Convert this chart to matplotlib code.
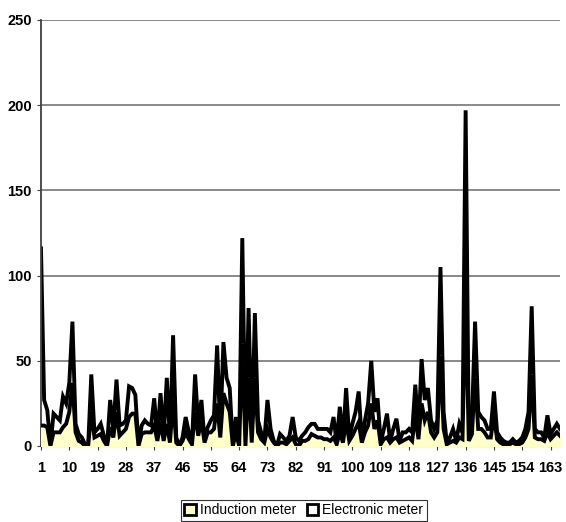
import matplotlib
matplotlib.use("Agg")
import matplotlib.pyplot as plt
from matplotlib.patches import Patch

plt.rcParams['font.family'] = ['Liberation Sans', 'DejaVu Sans']

# valores (ponto 1..166)
electronic = [116, 27, 21, 0, 19, 17, 15, 29, 25, 37, 73, 13, 7, 5, 1, 0, 42, 8, 10, 13,
              6, 0, 27, 10, 39, 12, 13, 15, 35, 34, 30, 0, 12, 15, 13, 12, 28, 5, 31, 5,
              40, 3, 65, 5, 0, 5, 17, 8, 2, 42, 12, 27, 3, 11, 15, 18, 59, 8, 61, 40,
              34, 0, 17, 0, 122, 0, 81, 3, 78, 15, 8, 3, 27, 10, 3, 0, 7, 5, 3, 6,
              17, 5, 3, 6, 8, 11, 13, 13, 10, 10, 10, 10, 8, 17, 2, 23, 3, 34, 5, 13,
              20, 32, 3, 15, 25, 50, 20, 28, 2, 10, 19, 3, 10, 16, 3, 8, 8, 10, 8, 36,
              8, 51, 27, 34, 15, 10, 15, 105, 20, 2, 5, 10, 3, 13, 8, 197, 5, 15, 73, 20,
              17, 15, 10, 10, 32, 8, 5, 3, 2, 2, 4, 2, 3, 5, 10, 20, 82, 10, 8, 8,
              5, 18, 7, 10, 13, 10]
induction = [12, 12, 11, 0, 8, 8, 8, 11, 13, 20, 37, 8, 3, 2, 0, 0, 20, 5, 6, 7,
             3, 0, 11, 5, 20, 6, 8, 10, 17, 19, 19, 0, 7, 8, 8, 8, 12, 3, 14, 3,
             13, 2, 27, 2, 0, 3, 8, 4, 1, 20, 6, 15, 2, 8, 8, 10, 25, 5, 31, 25,
             20, 0, 8, 0, 60, 0, 40, 2, 40, 8, 4, 2, 10, 5, 2, 0, 2, 2, 1, 3,
             5, 1, 0, 3, 3, 4, 7, 6, 5, 5, 4, 4, 3, 5, 1, 8, 2, 15, 3, 6,
             10, 14, 2, 8, 12, 25, 10, 15, 1, 4, 5, 2, 4, 5, 2, 3, 4, 5, 3, 18,
             4, 25, 15, 20, 8, 5, 8, 53, 10, 1, 2, 3, 2, 5, 4, 88, 3, 7, 40, 10,
             10, 8, 5, 5, 18, 4, 2, 1, 0, 1, 2, 1, 1, 2, 5, 10, 42, 5, 4, 4,
             3, 8, 4, 6, 8, 6]
x = list(range(1, len(electronic) + 1))
xticks = list(range(1, 167, 9))
yticks = [0, 50, 100, 150, 200, 250]

fig = plt.figure(figsize=(5.66, 5.22), dpi=100)
ax = fig.add_axes([0.0724, 0.1456, 0.917, 0.8161])

# grade horizontal
for y in yticks[1:]:
    ax.axhline(y, color='#808080', lw=1.3, zorder=0)

# area de tras (eletronico) e da frente (inducao)
ax.fill_between(x, electronic, 0, color='white', zorder=1)
ax.plot(x, electronic, color='black', lw=2.8, zorder=2, solid_joinstyle='miter')
ax.fill_between(x, induction, 0, color='#FFFFC8', zorder=3)
ax.plot(x, induction, color='black', lw=2.8, zorder=4, solid_joinstyle='miter')

ax.set_xlim(1, len(x))
ax.set_ylim(0, 250)
ax.set_xticks(xticks)
ax.set_yticks(yticks)
ax.tick_params(axis='both', labelsize=10.5, length=3, color='#404040')
ax.tick_params(axis='x', pad=8)
for lab in ax.get_xticklabels() + ax.get_yticklabels():
    lab.set_fontweight('bold')

ax.spines['top'].set_visible(False)
ax.spines['right'].set_visible(False)
ax.spines['left'].set_color('#404040')
ax.spines['bottom'].set_color('#404040')
ax.spines['left'].set_linewidth(1.3)
ax.spines['bottom'].set_linewidth(1.5)

# legenda
handles = [Patch(facecolor='#FFFFC8', edgecolor='black', lw=2),
           Patch(facecolor='white', edgecolor='black', lw=2)]
leg = fig.legend(handles, ['Induction meter', 'Electronic meter'],
                 loc='lower center', bbox_to_anchor=(0.537, 0.0), ncol=2,
                 frameon=True, fancybox=False, edgecolor='black',
                 fontsize=10, handlelength=0.8, handleheight=0.8,
                 handletextpad=0.3, columnspacing=0.8, borderpad=0.25,
                 borderaxespad=0.1)
leg.get_frame().set_linewidth(0.8)

fig.savefig('out.png', dpi=100)
